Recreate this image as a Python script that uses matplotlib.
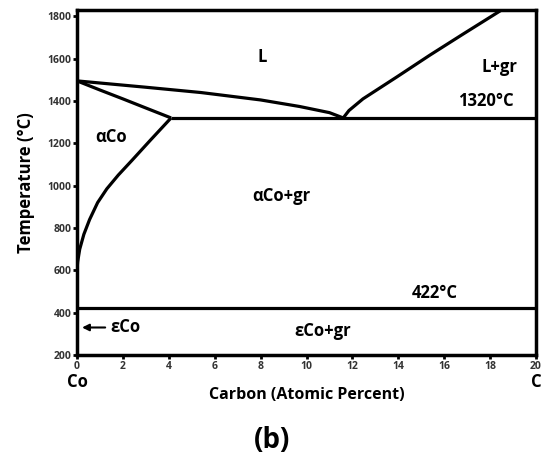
import matplotlib.pyplot as plt

plt.rcParams['font.family'] = ['Open Sans', 'DejaVu Sans']

# phase boundary data (carbon at.%, temperature °C)
liquidus_x = [0, 3, 5.4, 8, 9.7, 11.0, 11.6]
liquidus_t = [1495, 1465, 1440, 1405, 1374, 1345, 1320]
solidus_x = [0, 1, 2, 3, 4.1]
solidus_t = [1495, 1452, 1410, 1367, 1320]
solvus_x = [4.1, 3.2, 2.4, 1.8, 1.3, 0.9, 0.55, 0.3, 0.12, 0.03, 0]
solvus_t = [1320, 1215, 1120, 1050, 985, 920, 840, 770, 700, 640, 600]
graphite_x = [11.6, 11.85, 12.46, 13.94, 15.38, 16.82, 18.5]
graphite_t = [1320, 1355, 1410, 1514, 1617, 1716, 1830]
eutectic_x = [4.1, 20]
eutectic_t = [1320, 1320]
eutectoid_x = [0, 20]
eutectoid_t = [422, 422]

xticks = [0, 2, 4, 6, 8, 10, 12, 14, 16, 18, 20]
yticks = [200, 400, 600, 800, 1000, 1200, 1400, 1600, 1800]

fig = plt.figure(figsize=(5.42, 4.75), dpi=100)
ax = fig.add_axes([0.142, 0.2526, 0.847, 0.7264])

lw = 2.3
for xs, ts in [(liquidus_x, liquidus_t), (solidus_x, solidus_t), (solvus_x, solvus_t),
               (graphite_x, graphite_t), (eutectic_x, eutectic_t), (eutectoid_x, eutectoid_t)]:
    ax.plot(xs, ts, color='black', lw=lw, solid_capstyle='butt', solid_joinstyle='round')

ax.set_xlim(0, 20)
ax.set_ylim(200, 1830)
ax.set_xticks(xticks)
ax.set_yticks(yticks)
ax.tick_params(direction='out', length=3, width=2, labelsize=7.5, labelcolor='#333333', pad=1)
for lab in ax.get_xticklabels() + ax.get_yticklabels():
    lab.set_fontweight('bold')
for s in ax.spines.values():
    s.set_linewidth(2.5)

ax.set_ylabel('Temperature (°C)', fontsize=12, fontweight='bold', labelpad=9)
ax.set_xlabel('Carbon (Atomic Percent)', fontsize=11.5, fontweight='bold', labelpad=11)

fs = 12
ax.text(8.06, 1608, 'L', fontsize=fs, fontweight='bold', ha='center', va='center')
ax.text(18.4, 1560, 'L+gr', fontsize=fs, fontweight='bold', ha='center', va='center')
ax.text(17.8, 1400, '1320°C', fontsize=fs, fontweight='bold', ha='center', va='center')
ax.text(1.5, 1229, 'αCo', fontsize=fs, fontweight='bold', ha='center', va='center')
ax.text(8.9, 952, 'αCo+gr', fontsize=fs, fontweight='bold', ha='center', va='center')
ax.text(15.6, 493, '422°C', fontsize=fs, fontweight='bold', ha='center', va='center')
ax.text(10.7, 315, 'εCo+gr', fontsize=fs, fontweight='bold', ha='center', va='center')
ax.text(1.45, 330, 'εCo', fontsize=fs, fontweight='bold', ha='left', va='center')
ax.annotate('', xy=(0.1, 330), xytext=(1.35, 330),
            arrowprops=dict(arrowstyle='-|>', color='black', lw=1.5, mutation_scale=10))

ax.text(0, -0.078, 'Co', transform=ax.transAxes, fontsize=fs, fontweight='bold', ha='center', va='center')
ax.text(1.0, -0.078, 'C', transform=ax.transAxes, fontsize=fs, fontweight='bold', ha='center', va='center')
fig.text(0.502, 0.072, '(b)', fontsize=20, fontweight='bold', ha='center', va='center')

fig.savefig('out.png', dpi=100)
